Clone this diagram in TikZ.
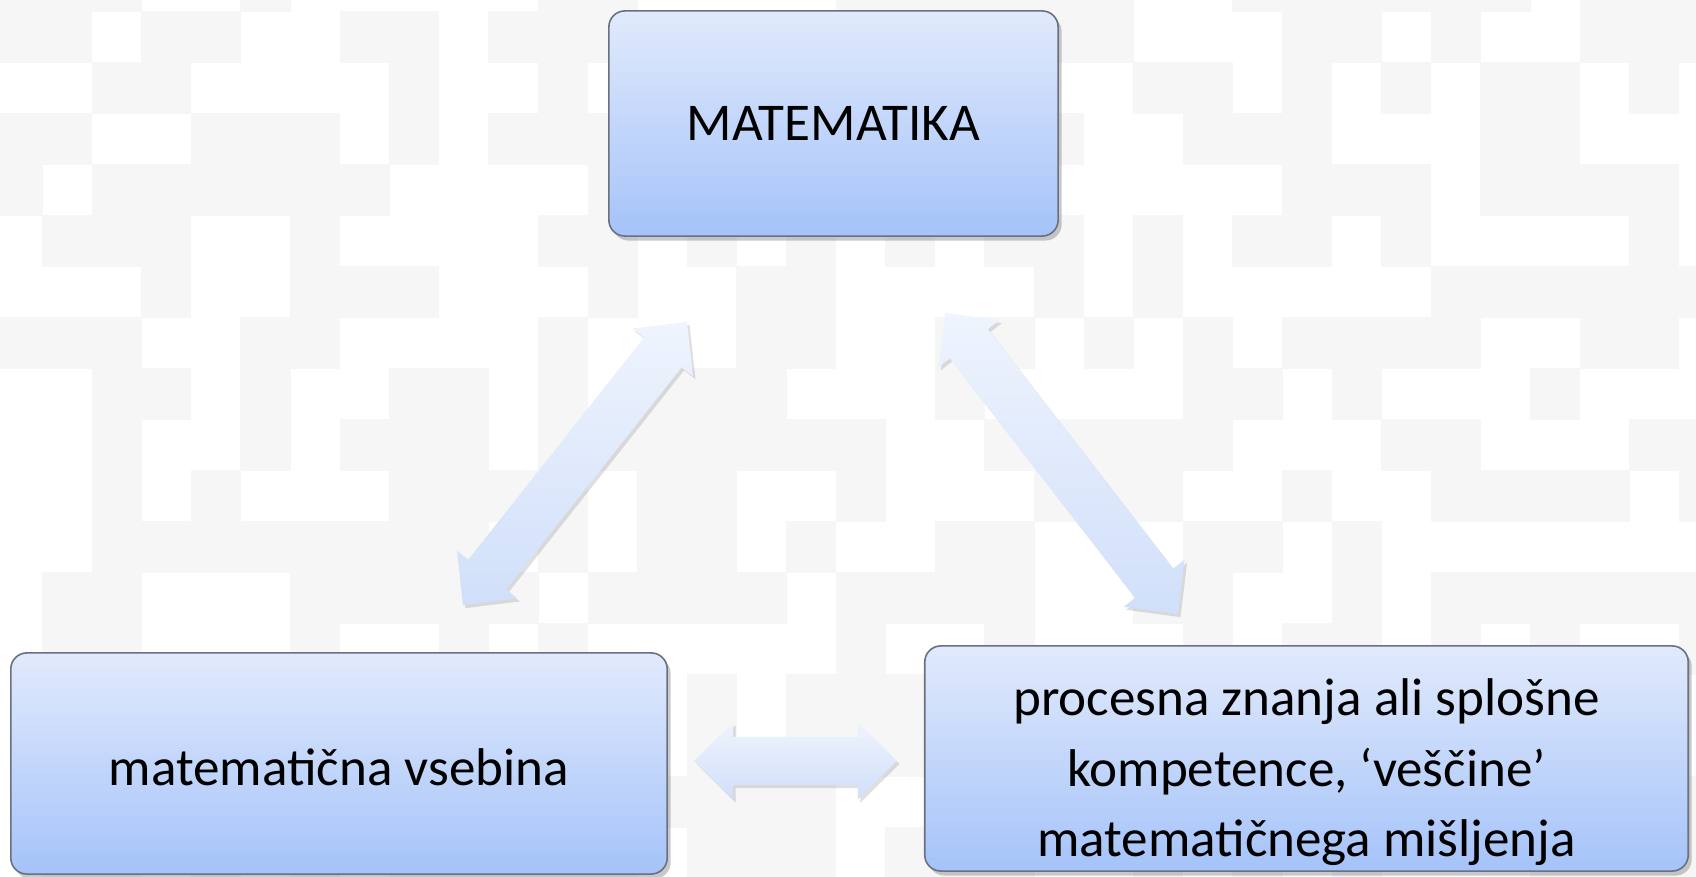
\documentclass[tikz,border=0pt]{standalone}
\usepackage{fontspec}
\setmainfont{Carlito}
\usetikzlibrary{calc, positioning, shadows}
\definecolor{boxtop}{RGB}{225,234,252}
\definecolor{boxbot}{RGB}{165,195,249}
\definecolor{boxline}{RGB}{105,112,128}
\definecolor{arrtop}{RGB}{239,244,253}
\definecolor{arrbot}{RGB}{208,223,250}
\definecolor{cellgrey}{RGB}{246,246,246}
\tikzset{
box/.style={draw=boxline, line width=0.45pt, rounded corners=1.6mm,
  top color=boxtop, bottom color=boxbot, % blue gradient of the boxes
  drop shadow={shadow xshift=0.35mm, shadow yshift=-0.45mm, opacity=0.35, fill=black!60},
  font=\fontsize{15.1}{20}\selectfont, align=center, inner sep=0pt},
bigarrow/.style={top color=arrtop, bottom color=arrbot, % the wide double arrows
  drop shadow={shadow xshift=0.25mm, shadow yshift=-0.3mm, opacity=0.25, fill=black!50}},
bgcell/.style={fill=cellgrey}, % grey squares of the background
}
% wide double arrow between two named points
\newcommand{\dblarrow}[2]{%
  \path[bigarrow] (#1)
    -- ($(#1)!3.9mm!(#2)!3.85mm!90:(#2)$)
    -- ($(#1)!3.9mm!(#2)!2.4mm!90:(#2)$)
    -- ($(#2)!3.9mm!(#1)!2.4mm!-90:(#1)$)
    -- ($(#2)!3.9mm!(#1)!3.85mm!-90:(#1)$)
    -- (#2)
    -- ($(#2)!3.9mm!(#1)!3.85mm!90:(#1)$)
    -- ($(#2)!3.9mm!(#1)!2.4mm!90:(#1)$)
    -- ($(#1)!3.9mm!(#2)!2.4mm!-90:(#2)$)
    -- ($(#1)!3.9mm!(#2)!3.85mm!-90:(#2)$)
    -- cycle;
}
\begin{document}
\begin{tikzpicture}[x=0.01cm, y=-0.01cm]

            \useasboundingbox (0,0) rectangle (1696,877);
            \fill[white] (0,0) rectangle (1696,877);

            % background squares
            \begin{scope}
            \clip (0,0) rectangle (1696,877);
            \pgfmathsetseed{42}
            \foreach \i in {0,...,17}{
              \foreach \j in {0,...,34}{
                \pgfmathtruncatemacro{\on}{rnd<0.5}
                \ifnum\on=1
                  \fill[bgcell] ({42+49.6*(\j-1)},{11+51*(\i-1)}) rectangle ({42.6+49.6*\j},{11.6+51*\i});
                \fi
              }
            }
            \end{scope}

            \node[box, minimum width=44.9mm, minimum height=22.5mm] (mat) at (833.5,123.5) {MATEMATIKA};
            \node[box, minimum width=65.6mm, minimum height=22.1mm] (vsebina) at (339,763.5)
                {\raisebox{-0.4mm}[\height][\depth]{matematična vsebina}};
            \node[box, minimum width=76.3mm, minimum height=22.5mm] (procesna) at (1306.5,758.5)
                {\raisebox{-1.35mm}[\height][\depth]{\begin{tabular}{@{}c@{}}procesna znanja ali splošne\\
                 kompetence, ‘veščine’\\ matematičnega mišljenja\end{tabular}}};

            \coordinate (l-top) at ($(mat.south)+(-146.5,85)$);
            \coordinate (l-bot) at ($(vsebina.north)+(124,-47)$);
            \coordinate (r-top) at ($(mat.south)+(111.5,76)$);
            \coordinate (r-bot) at ($(procesna.north)+(-128.5,-31)$);
            \coordinate (h-left) at ($(vsebina.east)+(26,-2.5)$);
            \coordinate (h-right) at ($(procesna.west)+(-27,2.5)$);

            \dblarrow{l-bot}{l-top}
            \dblarrow{r-top}{r-bot}
            \dblarrow{h-left}{h-right}

\end{tikzpicture}
\end{document}
